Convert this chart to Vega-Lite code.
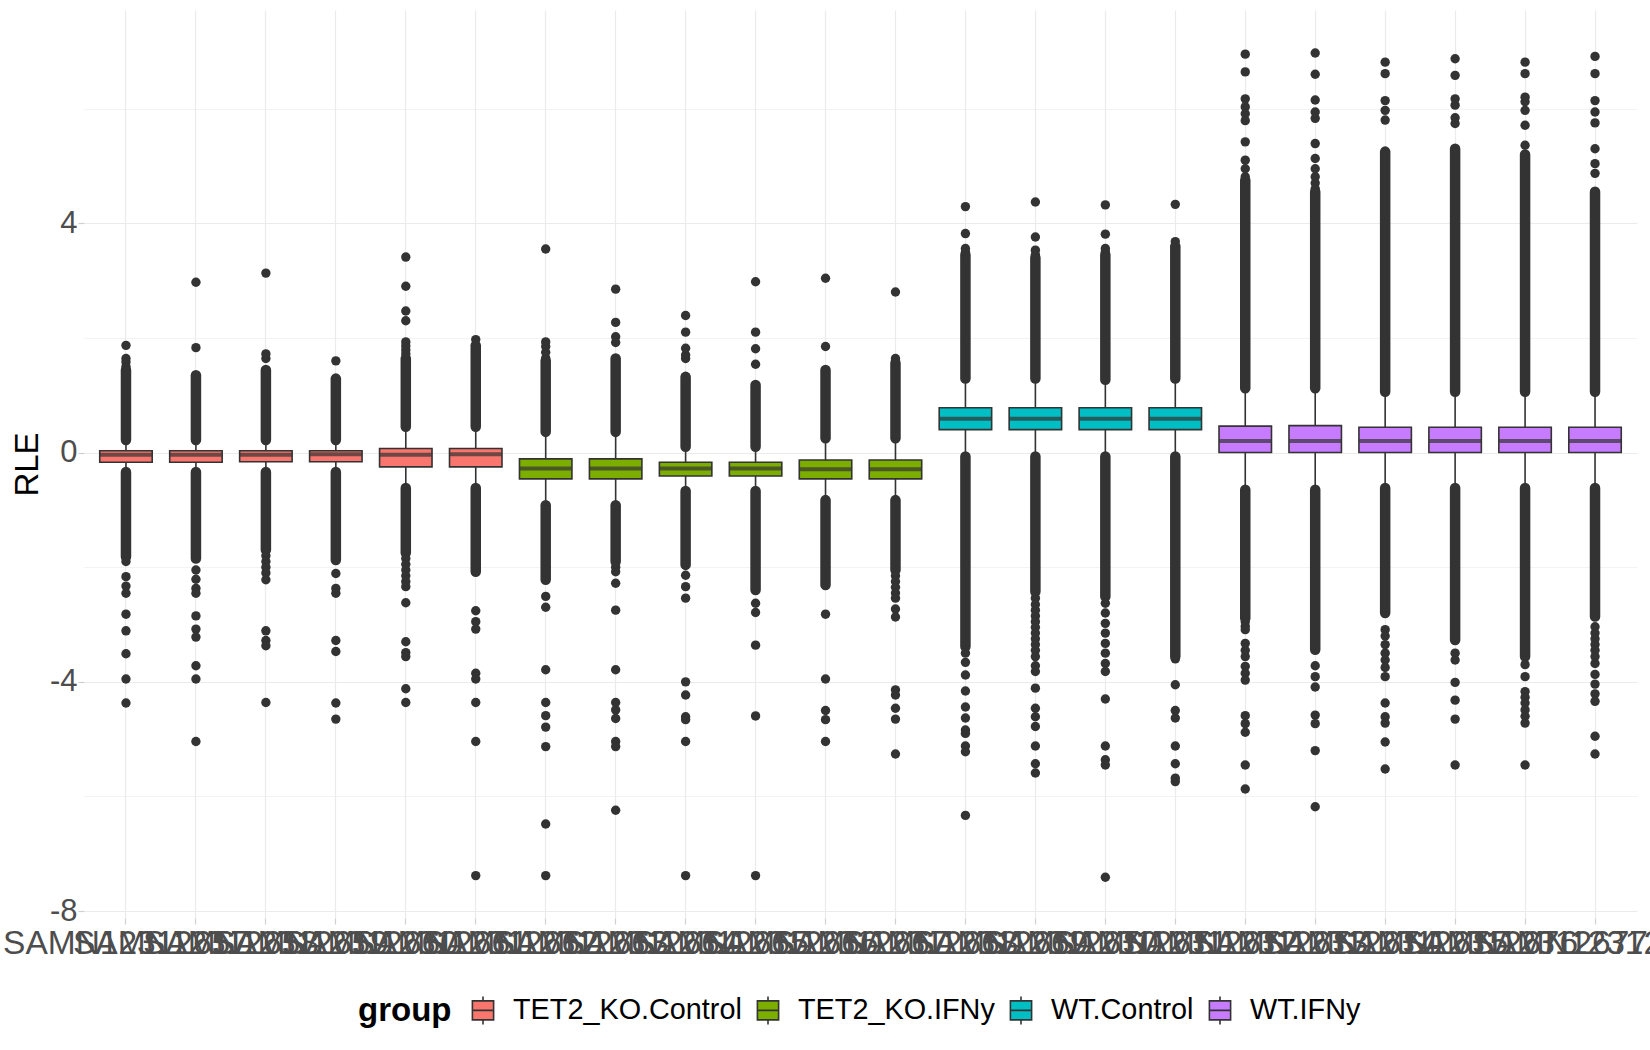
{
  "$schema": "https://vega.github.io/schema/vega-lite/v6.json",
  "width": 1553,
  "height": 908,
  "autosize": {"type": "none"},
  "padding": {"left": 84, "top": 10, "right": 13, "bottom": 132},
  "background": "white",
  "config": {
    "font": "Liberation Sans",
    "view": {"stroke": null}
  },
  "datasets": {
    "boxes": [
      {"sample": "SAMN12312657", "group": "TET2_KO.Control", "lower": -0.34, "q1": -0.17, "median": -0.04, "q3": 0.03, "upper": 0.22},
      {"sample": "SAMN12312658", "group": "TET2_KO.Control", "lower": -0.34, "q1": -0.17, "median": -0.04, "q3": 0.03, "upper": 0.22},
      {"sample": "SAMN12312659", "group": "TET2_KO.Control", "lower": -0.34, "q1": -0.16, "median": -0.04, "q3": 0.03, "upper": 0.22},
      {"sample": "SAMN12312660", "group": "TET2_KO.Control", "lower": -0.34, "q1": -0.16, "median": -0.03, "q3": 0.03, "upper": 0.22},
      {"sample": "SAMN12312661", "group": "TET2_KO.Control", "lower": -0.62, "q1": -0.25, "median": -0.04, "q3": 0.07, "upper": 0.45},
      {"sample": "SAMN12312662", "group": "TET2_KO.Control", "lower": -0.62, "q1": -0.25, "median": -0.03, "q3": 0.07, "upper": 0.45},
      {"sample": "SAMN12312663", "group": "TET2_KO.IFNy", "lower": -0.92, "q1": -0.46, "median": -0.28, "q3": -0.11, "upper": 0.36},
      {"sample": "SAMN12312664", "group": "TET2_KO.IFNy", "lower": -0.92, "q1": -0.46, "median": -0.28, "q3": -0.11, "upper": 0.36},
      {"sample": "SAMN12312665", "group": "TET2_KO.IFNy", "lower": -0.67, "q1": -0.41, "median": -0.28, "q3": -0.17, "upper": 0.10},
      {"sample": "SAMN12312666", "group": "TET2_KO.IFNy", "lower": -0.67, "q1": -0.41, "median": -0.28, "q3": -0.17, "upper": 0.10},
      {"sample": "SAMN12312667", "group": "TET2_KO.IFNy", "lower": -0.83, "q1": -0.46, "median": -0.29, "q3": -0.13, "upper": 0.25},
      {"sample": "SAMN12312668", "group": "TET2_KO.IFNy", "lower": -0.83, "q1": -0.46, "median": -0.29, "q3": -0.13, "upper": 0.25},
      {"sample": "SAMN12312669", "group": "WT.Control", "lower": -0.07, "q1": 0.40, "median": 0.59, "q3": 0.78, "upper": 1.29},
      {"sample": "SAMN12312670", "group": "WT.Control", "lower": -0.07, "q1": 0.40, "median": 0.59, "q3": 0.78, "upper": 1.29},
      {"sample": "SAMN12312671", "group": "WT.Control", "lower": -0.07, "q1": 0.40, "median": 0.59, "q3": 0.78, "upper": 1.27},
      {"sample": "SAMN12312672", "group": "WT.Control", "lower": -0.07, "q1": 0.40, "median": 0.59, "q3": 0.78, "upper": 1.29},
      {"sample": "SAMN12312673", "group": "WT.IFNy", "lower": -0.65, "q1": 0.0, "median": 0.20, "q3": 0.46, "upper": 1.12},
      {"sample": "SAMN12312674", "group": "WT.IFNy", "lower": -0.65, "q1": 0.0, "median": 0.20, "q3": 0.47, "upper": 1.12},
      {"sample": "SAMN12312675", "group": "WT.IFNy", "lower": -0.62, "q1": 0.0, "median": 0.20, "q3": 0.44, "upper": 1.06},
      {"sample": "SAMN12312676", "group": "WT.IFNy", "lower": -0.62, "q1": 0.0, "median": 0.20, "q3": 0.44, "upper": 1.06},
      {"sample": "SAMN12312677", "group": "WT.IFNy", "lower": -0.62, "q1": 0.0, "median": 0.20, "q3": 0.44, "upper": 1.06},
      {"sample": "SAMN12312678", "group": "WT.IFNy", "lower": -0.62, "q1": 0.0, "median": 0.20, "q3": 0.44, "upper": 1.06}
    ],
    "bands": [
      {"sample": "SAMN12312657", "lo": 0.22, "hi": 1.44}, {"sample": "SAMN12312657", "lo": -1.82, "hi": -0.34},
      {"sample": "SAMN12312658", "lo": 0.22, "hi": 1.35}, {"sample": "SAMN12312658", "lo": -1.85, "hi": -0.34},
      {"sample": "SAMN12312659", "lo": 0.22, "hi": 1.44}, {"sample": "SAMN12312659", "lo": -1.70, "hi": -0.34},
      {"sample": "SAMN12312660", "lo": 0.22, "hi": 1.29}, {"sample": "SAMN12312660", "lo": -1.875, "hi": -0.34},
      {"sample": "SAMN12312661", "lo": 0.45, "hi": 1.64}, {"sample": "SAMN12312661", "lo": -1.75, "hi": -0.62},
      {"sample": "SAMN12312662", "lo": 0.45, "hi": 1.87}, {"sample": "SAMN12312662", "lo": -2.08, "hi": -0.62},
      {"sample": "SAMN12312663", "lo": 0.36, "hi": 1.6}, {"sample": "SAMN12312663", "lo": -2.22, "hi": -0.92},
      {"sample": "SAMN12312664", "lo": 0.36, "hi": 1.64}, {"sample": "SAMN12312664", "lo": -1.9, "hi": -0.92},
      {"sample": "SAMN12312665", "lo": 0.10, "hi": 1.32}, {"sample": "SAMN12312665", "lo": -1.96, "hi": -0.67},
      {"sample": "SAMN12312666", "lo": 0.10, "hi": 1.18}, {"sample": "SAMN12312666", "lo": -2.4, "hi": -0.67},
      {"sample": "SAMN12312667", "lo": 0.25, "hi": 1.44}, {"sample": "SAMN12312667", "lo": -2.31, "hi": -0.83},
      {"sample": "SAMN12312668", "lo": 0.25, "hi": 1.56}, {"sample": "SAMN12312668", "lo": -2.05, "hi": -0.83},
      {"sample": "SAMN12312669", "lo": 1.29, "hi": 3.45}, {"sample": "SAMN12312669", "lo": -3.385, "hi": -0.07},
      {"sample": "SAMN12312670", "lo": 1.29, "hi": 3.4}, {"sample": "SAMN12312670", "lo": -2.43, "hi": -0.07},
      {"sample": "SAMN12312671", "lo": 1.27, "hi": 3.45}, {"sample": "SAMN12312671", "lo": -2.51, "hi": -0.07},
      {"sample": "SAMN12312672", "lo": 1.29, "hi": 3.6}, {"sample": "SAMN12312672", "lo": -3.56, "hi": -0.07},
      {"sample": "SAMN12312673", "lo": 1.12, "hi": 4.75}, {"sample": "SAMN12312673", "lo": -2.89, "hi": -0.65},
      {"sample": "SAMN12312674", "lo": 1.12, "hi": 4.55}, {"sample": "SAMN12312674", "lo": -3.44, "hi": -0.65},
      {"sample": "SAMN12312675", "lo": 1.06, "hi": 5.25}, {"sample": "SAMN12312675", "lo": -2.80, "hi": -0.62},
      {"sample": "SAMN12312676", "lo": 1.06, "hi": 5.3}, {"sample": "SAMN12312676", "lo": -3.27, "hi": -0.62},
      {"sample": "SAMN12312677", "lo": 1.06, "hi": 5.2}, {"sample": "SAMN12312677", "lo": -3.56, "hi": -0.62},
      {"sample": "SAMN12312678", "lo": 1.06, "hi": 4.55}, {"sample": "SAMN12312678", "lo": -2.86, "hi": -0.62}
    ],
    "points": [
      {"sample": "SAMN12312657", "value": 1.5}, {"sample": "SAMN12312657", "value": 1.58}, {"sample": "SAMN12312657", "value": 1.64}, {"sample": "SAMN12312657", "value": 1.87},
      {"sample": "SAMN12312657", "value": -1.9}, {"sample": "SAMN12312657", "value": -2.165}, {"sample": "SAMN12312657", "value": -2.33}, {"sample": "SAMN12312657", "value": -2.455}, {"sample": "SAMN12312657", "value": -2.82}, {"sample": "SAMN12312657", "value": -3.11}, {"sample": "SAMN12312657", "value": -3.51}, {"sample": "SAMN12312657", "value": -3.95}, {"sample": "SAMN12312657", "value": -4.37},
      {"sample": "SAMN12312658", "value": 1.83}, {"sample": "SAMN12312658", "value": 2.97},
      {"sample": "SAMN12312658", "value": -2.05}, {"sample": "SAMN12312658", "value": -2.21}, {"sample": "SAMN12312658", "value": -2.37}, {"sample": "SAMN12312658", "value": -2.455}, {"sample": "SAMN12312658", "value": -2.85}, {"sample": "SAMN12312658", "value": -3.08}, {"sample": "SAMN12312658", "value": -3.22}, {"sample": "SAMN12312658", "value": -3.72}, {"sample": "SAMN12312658", "value": -3.95}, {"sample": "SAMN12312658", "value": -5.04},
      {"sample": "SAMN12312659", "value": 1.64}, {"sample": "SAMN12312659", "value": 1.72}, {"sample": "SAMN12312659", "value": 3.13},
      {"sample": "SAMN12312659", "value": -1.8}, {"sample": "SAMN12312659", "value": -1.9}, {"sample": "SAMN12312659", "value": -2.0}, {"sample": "SAMN12312659", "value": -2.1}, {"sample": "SAMN12312659", "value": -2.22}, {"sample": "SAMN12312659", "value": -3.11}, {"sample": "SAMN12312659", "value": -3.28}, {"sample": "SAMN12312659", "value": -3.37}, {"sample": "SAMN12312659", "value": -4.36},
      {"sample": "SAMN12312660", "value": 1.6},
      {"sample": "SAMN12312660", "value": -2.11}, {"sample": "SAMN12312660", "value": -2.37}, {"sample": "SAMN12312660", "value": -2.455}, {"sample": "SAMN12312660", "value": -3.28}, {"sample": "SAMN12312660", "value": -3.47}, {"sample": "SAMN12312660", "value": -4.37}, {"sample": "SAMN12312660", "value": -4.65},
      {"sample": "SAMN12312661", "value": 1.72}, {"sample": "SAMN12312661", "value": 1.79}, {"sample": "SAMN12312661", "value": 1.86}, {"sample": "SAMN12312661", "value": 1.93}, {"sample": "SAMN12312661", "value": 2.30}, {"sample": "SAMN12312661", "value": 2.47}, {"sample": "SAMN12312661", "value": 2.9}, {"sample": "SAMN12312661", "value": 3.41},
      {"sample": "SAMN12312661", "value": -1.85}, {"sample": "SAMN12312661", "value": -1.95}, {"sample": "SAMN12312661", "value": -2.05}, {"sample": "SAMN12312661", "value": -2.15}, {"sample": "SAMN12312661", "value": -2.25}, {"sample": "SAMN12312661", "value": -2.34}, {"sample": "SAMN12312661", "value": -2.62}, {"sample": "SAMN12312661", "value": -3.30}, {"sample": "SAMN12312661", "value": -3.49}, {"sample": "SAMN12312661", "value": -3.56}, {"sample": "SAMN12312661", "value": -4.12}, {"sample": "SAMN12312661", "value": -4.36},
      {"sample": "SAMN12312662", "value": 1.97},
      {"sample": "SAMN12312662", "value": -2.76}, {"sample": "SAMN12312662", "value": -2.95}, {"sample": "SAMN12312662", "value": -3.08}, {"sample": "SAMN12312662", "value": -3.85}, {"sample": "SAMN12312662", "value": -3.95}, {"sample": "SAMN12312662", "value": -4.36}, {"sample": "SAMN12312662", "value": -5.04}, {"sample": "SAMN12312662", "value": -7.38},
      {"sample": "SAMN12312663", "value": 1.65}, {"sample": "SAMN12312663", "value": 1.75}, {"sample": "SAMN12312663", "value": 1.85}, {"sample": "SAMN12312663", "value": 1.93}, {"sample": "SAMN12312663", "value": 3.55},
      {"sample": "SAMN12312663", "value": -2.51}, {"sample": "SAMN12312663", "value": -2.70}, {"sample": "SAMN12312663", "value": -3.79}, {"sample": "SAMN12312663", "value": -4.36}, {"sample": "SAMN12312663", "value": -4.59}, {"sample": "SAMN12312663", "value": -4.79}, {"sample": "SAMN12312663", "value": -5.13}, {"sample": "SAMN12312663", "value": -6.48}, {"sample": "SAMN12312663", "value": -7.38},
      {"sample": "SAMN12312664", "value": 1.92}, {"sample": "SAMN12312664", "value": 2.02}, {"sample": "SAMN12312664", "value": 2.27}, {"sample": "SAMN12312664", "value": 2.85},
      {"sample": "SAMN12312664", "value": -2.0}, {"sample": "SAMN12312664", "value": -2.08}, {"sample": "SAMN12312664", "value": -2.28}, {"sample": "SAMN12312664", "value": -2.75}, {"sample": "SAMN12312664", "value": -3.79}, {"sample": "SAMN12312664", "value": -4.36}, {"sample": "SAMN12312664", "value": -4.49}, {"sample": "SAMN12312664", "value": -4.64}, {"sample": "SAMN12312664", "value": -5.04}, {"sample": "SAMN12312664", "value": -5.13}, {"sample": "SAMN12312664", "value": -6.24},
      {"sample": "SAMN12312665", "value": 1.64}, {"sample": "SAMN12312665", "value": 1.7}, {"sample": "SAMN12312665", "value": 1.82}, {"sample": "SAMN12312665", "value": 2.10}, {"sample": "SAMN12312665", "value": 2.39},
      {"sample": "SAMN12312665", "value": -2.14}, {"sample": "SAMN12312665", "value": -2.34}, {"sample": "SAMN12312665", "value": -2.54}, {"sample": "SAMN12312665", "value": -4.0}, {"sample": "SAMN12312665", "value": -4.23}, {"sample": "SAMN12312665", "value": -4.61}, {"sample": "SAMN12312665", "value": -4.66}, {"sample": "SAMN12312665", "value": -5.04}, {"sample": "SAMN12312665", "value": -7.38},
      {"sample": "SAMN12312666", "value": 1.54}, {"sample": "SAMN12312666", "value": 1.81}, {"sample": "SAMN12312666", "value": 2.10}, {"sample": "SAMN12312666", "value": 2.98},
      {"sample": "SAMN12312666", "value": -2.63}, {"sample": "SAMN12312666", "value": -2.79}, {"sample": "SAMN12312666", "value": -3.36}, {"sample": "SAMN12312666", "value": -4.595}, {"sample": "SAMN12312666", "value": -7.38},
      {"sample": "SAMN12312667", "value": 1.85}, {"sample": "SAMN12312667", "value": 3.04},
      {"sample": "SAMN12312667", "value": -2.82}, {"sample": "SAMN12312667", "value": -3.95}, {"sample": "SAMN12312667", "value": -4.5}, {"sample": "SAMN12312667", "value": -4.66}, {"sample": "SAMN12312667", "value": -5.04},
      {"sample": "SAMN12312668", "value": 1.6}, {"sample": "SAMN12312668", "value": 1.64}, {"sample": "SAMN12312668", "value": 2.80},
      {"sample": "SAMN12312668", "value": -2.15}, {"sample": "SAMN12312668", "value": -2.25}, {"sample": "SAMN12312668", "value": -2.35}, {"sample": "SAMN12312668", "value": -2.45}, {"sample": "SAMN12312668", "value": -2.54}, {"sample": "SAMN12312668", "value": -2.73}, {"sample": "SAMN12312668", "value": -2.87}, {"sample": "SAMN12312668", "value": -4.14}, {"sample": "SAMN12312668", "value": -4.23}, {"sample": "SAMN12312668", "value": -4.46}, {"sample": "SAMN12312668", "value": -4.65}, {"sample": "SAMN12312668", "value": -5.26},
      {"sample": "SAMN12312669", "value": 3.5}, {"sample": "SAMN12312669", "value": 3.56}, {"sample": "SAMN12312669", "value": 3.82}, {"sample": "SAMN12312669", "value": 4.29},
      {"sample": "SAMN12312669", "value": -3.50}, {"sample": "SAMN12312669", "value": -3.66}, {"sample": "SAMN12312669", "value": -3.88}, {"sample": "SAMN12312669", "value": -4.16}, {"sample": "SAMN12312669", "value": -4.44}, {"sample": "SAMN12312669", "value": -4.63}, {"sample": "SAMN12312669", "value": -4.84}, {"sample": "SAMN12312669", "value": -4.90}, {"sample": "SAMN12312669", "value": -5.12}, {"sample": "SAMN12312669", "value": -5.22}, {"sample": "SAMN12312669", "value": -6.33},
      {"sample": "SAMN12312670", "value": 3.45}, {"sample": "SAMN12312670", "value": 3.53}, {"sample": "SAMN12312670", "value": 3.76}, {"sample": "SAMN12312670", "value": 4.37},
      {"sample": "SAMN12312670", "value": -2.54}, {"sample": "SAMN12312670", "value": -2.65}, {"sample": "SAMN12312670", "value": -2.75}, {"sample": "SAMN12312670", "value": -2.85}, {"sample": "SAMN12312670", "value": -2.95}, {"sample": "SAMN12312670", "value": -3.05}, {"sample": "SAMN12312670", "value": -3.15}, {"sample": "SAMN12312670", "value": -3.25}, {"sample": "SAMN12312670", "value": -3.35}, {"sample": "SAMN12312670", "value": -3.45}, {"sample": "SAMN12312670", "value": -3.56}, {"sample": "SAMN12312670", "value": -3.72}, {"sample": "SAMN12312670", "value": -3.82}, {"sample": "SAMN12312670", "value": -4.11}, {"sample": "SAMN12312670", "value": -4.46}, {"sample": "SAMN12312670", "value": -4.61}, {"sample": "SAMN12312670", "value": -4.78}, {"sample": "SAMN12312670", "value": -5.12}, {"sample": "SAMN12312670", "value": -5.43}, {"sample": "SAMN12312670", "value": -5.59},
      {"sample": "SAMN12312671", "value": 3.5}, {"sample": "SAMN12312671", "value": 3.56}, {"sample": "SAMN12312671", "value": 3.81}, {"sample": "SAMN12312671", "value": 4.32},
      {"sample": "SAMN12312671", "value": -2.63}, {"sample": "SAMN12312671", "value": -2.80}, {"sample": "SAMN12312671", "value": -2.98}, {"sample": "SAMN12312671", "value": -3.15}, {"sample": "SAMN12312671", "value": -3.33}, {"sample": "SAMN12312671", "value": -3.50}, {"sample": "SAMN12312671", "value": -3.68}, {"sample": "SAMN12312671", "value": -3.82}, {"sample": "SAMN12312671", "value": -4.30}, {"sample": "SAMN12312671", "value": -5.12}, {"sample": "SAMN12312671", "value": -5.36}, {"sample": "SAMN12312671", "value": -5.45}, {"sample": "SAMN12312671", "value": -7.41},
      {"sample": "SAMN12312672", "value": 3.68}, {"sample": "SAMN12312672", "value": 4.33},
      {"sample": "SAMN12312672", "value": -3.6}, {"sample": "SAMN12312672", "value": -4.05}, {"sample": "SAMN12312672", "value": -4.5}, {"sample": "SAMN12312672", "value": -4.63}, {"sample": "SAMN12312672", "value": -5.12}, {"sample": "SAMN12312672", "value": -5.43}, {"sample": "SAMN12312672", "value": -5.68}, {"sample": "SAMN12312672", "value": -5.74},
      {"sample": "SAMN12312673", "value": 4.81}, {"sample": "SAMN12312673", "value": 4.95}, {"sample": "SAMN12312673", "value": 5.10}, {"sample": "SAMN12312673", "value": 5.42}, {"sample": "SAMN12312673", "value": 5.79}, {"sample": "SAMN12312673", "value": 5.91}, {"sample": "SAMN12312673", "value": 6.03}, {"sample": "SAMN12312673", "value": 6.17}, {"sample": "SAMN12312673", "value": 6.64}, {"sample": "SAMN12312673", "value": 6.95},
      {"sample": "SAMN12312673", "value": -2.95}, {"sample": "SAMN12312673", "value": -3.03}, {"sample": "SAMN12312673", "value": -3.09}, {"sample": "SAMN12312673", "value": -3.33}, {"sample": "SAMN12312673", "value": -3.45}, {"sample": "SAMN12312673", "value": -3.56}, {"sample": "SAMN12312673", "value": -3.73}, {"sample": "SAMN12312673", "value": -3.85}, {"sample": "SAMN12312673", "value": -3.97}, {"sample": "SAMN12312673", "value": -4.59}, {"sample": "SAMN12312673", "value": -4.73}, {"sample": "SAMN12312673", "value": -4.88}, {"sample": "SAMN12312673", "value": -5.45}, {"sample": "SAMN12312673", "value": -5.87},
      {"sample": "SAMN12312674", "value": 4.6}, {"sample": "SAMN12312674", "value": 4.7}, {"sample": "SAMN12312674", "value": 4.81}, {"sample": "SAMN12312674", "value": 4.95}, {"sample": "SAMN12312674", "value": 5.13}, {"sample": "SAMN12312674", "value": 5.39}, {"sample": "SAMN12312674", "value": 5.83}, {"sample": "SAMN12312674", "value": 5.94}, {"sample": "SAMN12312674", "value": 6.15}, {"sample": "SAMN12312674", "value": 6.60}, {"sample": "SAMN12312674", "value": 6.97},
      {"sample": "SAMN12312674", "value": -3.72}, {"sample": "SAMN12312674", "value": -3.91}, {"sample": "SAMN12312674", "value": -4.09}, {"sample": "SAMN12312674", "value": -4.58}, {"sample": "SAMN12312674", "value": -4.73}, {"sample": "SAMN12312674", "value": -5.20}, {"sample": "SAMN12312674", "value": -6.18},
      {"sample": "SAMN12312675", "value": 5.80}, {"sample": "SAMN12312675", "value": 5.97}, {"sample": "SAMN12312675", "value": 6.14}, {"sample": "SAMN12312675", "value": 6.61}, {"sample": "SAMN12312675", "value": 6.81},
      {"sample": "SAMN12312675", "value": -3.09}, {"sample": "SAMN12312675", "value": -3.2}, {"sample": "SAMN12312675", "value": -3.35}, {"sample": "SAMN12312675", "value": -3.5}, {"sample": "SAMN12312675", "value": -3.62}, {"sample": "SAMN12312675", "value": -3.75}, {"sample": "SAMN12312675", "value": -3.91}, {"sample": "SAMN12312675", "value": -4.37}, {"sample": "SAMN12312675", "value": -4.61}, {"sample": "SAMN12312675", "value": -4.72}, {"sample": "SAMN12312675", "value": -5.05}, {"sample": "SAMN12312675", "value": -5.52},
      {"sample": "SAMN12312676", "value": 5.74}, {"sample": "SAMN12312676", "value": 5.84}, {"sample": "SAMN12312676", "value": 6.06}, {"sample": "SAMN12312676", "value": 6.17}, {"sample": "SAMN12312676", "value": 6.58}, {"sample": "SAMN12312676", "value": 6.87},
      {"sample": "SAMN12312676", "value": -3.50}, {"sample": "SAMN12312676", "value": -3.62}, {"sample": "SAMN12312676", "value": -4.01}, {"sample": "SAMN12312676", "value": -4.32}, {"sample": "SAMN12312676", "value": -4.65}, {"sample": "SAMN12312676", "value": -5.45},
      {"sample": "SAMN12312677", "value": 5.36}, {"sample": "SAMN12312677", "value": 5.71}, {"sample": "SAMN12312677", "value": 5.97}, {"sample": "SAMN12312677", "value": 6.12}, {"sample": "SAMN12312677", "value": 6.20}, {"sample": "SAMN12312677", "value": 6.61}, {"sample": "SAMN12312677", "value": 6.81},
      {"sample": "SAMN12312677", "value": -3.7}, {"sample": "SAMN12312677", "value": -3.91}, {"sample": "SAMN12312677", "value": -4.17}, {"sample": "SAMN12312677", "value": -4.27}, {"sample": "SAMN12312677", "value": -4.37}, {"sample": "SAMN12312677", "value": -4.49}, {"sample": "SAMN12312677", "value": -4.6}, {"sample": "SAMN12312677", "value": -4.72}, {"sample": "SAMN12312677", "value": -5.45},
      {"sample": "SAMN12312678", "value": 4.87}, {"sample": "SAMN12312678", "value": 5.04}, {"sample": "SAMN12312678", "value": 5.30}, {"sample": "SAMN12312678", "value": 5.75}, {"sample": "SAMN12312678", "value": 5.94}, {"sample": "SAMN12312678", "value": 6.14}, {"sample": "SAMN12312678", "value": 6.61}, {"sample": "SAMN12312678", "value": 6.91},
      {"sample": "SAMN12312678", "value": -3.04}, {"sample": "SAMN12312678", "value": -3.15}, {"sample": "SAMN12312678", "value": -3.25}, {"sample": "SAMN12312678", "value": -3.35}, {"sample": "SAMN12312678", "value": -3.45}, {"sample": "SAMN12312678", "value": -3.56}, {"sample": "SAMN12312678", "value": -3.68}, {"sample": "SAMN12312678", "value": -3.87}, {"sample": "SAMN12312678", "value": -4.04}, {"sample": "SAMN12312678", "value": -4.21}, {"sample": "SAMN12312678", "value": -4.34}, {"sample": "SAMN12312678", "value": -4.95}, {"sample": "SAMN12312678", "value": -5.26}
    ]
  },
  "layer": [
    {
      "data": {"name": "boxes"},
      "mark": {"type": "rule", "color": "#333333", "strokeWidth": 1.6},
      "encoding": {
        "x": {
          "field": "sample", "type": "nominal",
          "scale": {"paddingInner": 0.25, "paddingOuter": 0.225},
          "axis": {
            "title": null, "labelAngle": 0, "labelOverlap": false, "labelBound": false, "labelFlush": false, "labelLimit": 0,
            "labelFontSize": 33.5, "labelColor": "#4d4d4d", "labelPadding": 3,
            "bandPosition": 0.5, "grid": true, "gridColor": "#ebebeb", "gridWidth": 1.2,
            "domain": false, "ticks": true, "tickSize": 6, "tickColor": "#d0d0d0", "tickWidth": 1.2
          }
        },
        "y": {
          "field": "lower", "type": "quantitative",
          "scale": {"domain": [-8.12, 7.72], "nice": false, "zero": false},
          "axis": {
            "title": "RLE", "titleFontSize": 33, "titleFontWeight": "normal", "titleColor": "#000000",
            "titleX": -47, "titleBaseline": "alphabetic", "titleAngle": -90,
            "values": [-8, -6, -4, -2, 0, 2, 4, 6],
            "labelExpr": "datum.value % 4 === 0 ? '' + datum.value : ''",
            "labelFontSize": 31, "labelColor": "#4d4d4d", "labelPadding": 1,
            "grid": true, "gridColor": "#ebebeb",
            "gridWidth": {"condition": {"test": "datum.value % 4 !== 0", "value": 0.6}, "value": 1.2},
            "domain": false, "tickSize": 6, "tickColor": "#d0d0d0", "tickWidth": 1.2,
            "tickOpacity": {"condition": {"test": "datum.value % 4 !== 0", "value": 0}, "value": 1}
          }
        },
        "y2": {"field": "upper"}
      }
    },
    {
      "data": {"name": "boxes"},
      "mark": {"type": "bar", "stroke": "#333333", "strokeWidth": 1.6},
      "encoding": {
        "x": {"field": "sample", "type": "nominal"},
        "y": {"field": "q1", "type": "quantitative"},
        "y2": {"field": "q3"},
        "fill": {
          "field": "group", "type": "nominal",
          "scale": {"domain": ["TET2_KO.Control", "TET2_KO.IFNy", "WT.Control", "WT.IFNy"], "range": ["#F8766D", "#7CAE00", "#00BFC4", "#C77CFF"]},
          "legend": {
            "title": "group", "orient": "none", "legendX": 274, "legendY": 985,
            "direction": "horizontal", "columns": 4, "titleOrient": "left",
            "titleFontSize": 33, "titleFontWeight": "bold", "titleColor": "#000000", "titlePadding": 16,
            "titleBaseline": "middle",
            "labelFontSize": 28.8, "labelColor": "#000000", "labelOffset": 15, "labelLimit": 0, "columnPadding": 11,
            "symbolType": "M-0.76,-0.68H0.76V0.68H-0.76Z M-0.76,0H0.76 M0,-0.68V-1 M0,0.68V1",
            "symbolSize": 780, "symbolStrokeColor": "#333333", "symbolStrokeWidth": 1.6, "symbolOpacity": 1
          }
        }
      }
    },
    {
      "data": {"name": "boxes"},
      "mark": {"type": "tick", "color": "#333333", "thickness": 4, "size": 52, "orient": "horizontal"},
      "encoding": {
        "x": {"field": "sample", "type": "nominal"},
        "y": {"field": "median", "type": "quantitative"}
      }
    },
    {
      "data": {"name": "bands"},
      "mark": {"type": "rule", "color": "#333333", "strokeWidth": 10.5, "strokeCap": "round"},
      "encoding": {
        "x": {"field": "sample", "type": "nominal"},
        "y": {"field": "lo", "type": "quantitative"},
        "y2": {"field": "hi"}
      }
    },
    {
      "data": {"name": "points"},
      "mark": {"type": "circle", "color": "#333333", "size": 88, "opacity": 1},
      "encoding": {
        "x": {"field": "sample", "type": "nominal"},
        "y": {"field": "value", "type": "quantitative"}
      }
    },
    {
      "mark": {"type": "rule", "color": "#FF0000", "strokeWidth": 2, "strokeDash": [8, 6]},
      "encoding": {
        "y": {"datum": 0}
      }
    }
  ]
}
